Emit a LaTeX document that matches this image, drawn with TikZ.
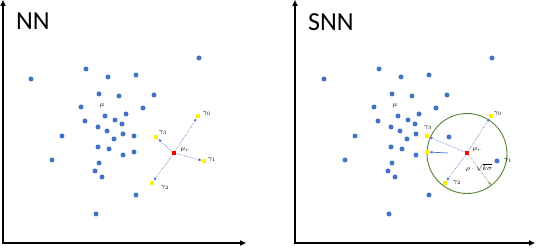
\documentclass[tikz,border=0pt]{standalone}
\usepackage{fontspec}
\setmainfont{Carlito}
\usetikzlibrary{arrows.meta}
\definecolor{dotblue}{HTML}{4472C4}
\definecolor{circgreen}{HTML}{548235}
\definecolor{radgray}{HTML}{8A9A7A}
\begin{document}
\begin{tikzpicture}[x=1pt,y=-1pt,
  dot/.style={circle,fill=dotblue,inner sep=0pt,minimum size=5pt},
  ypt/.style={rectangle,fill=yellow,inner sep=0pt,minimum size=4.5pt},
  rpt/.style={rectangle,fill=red,inner sep=0pt,minimum size=4.5pt},
  lbl/.style={font=\fontsize{7}{8}\selectfont,inner sep=0pt},
  axis/.style={line width=1.6pt,{Triangle[length=6pt,width=5pt]}-{Triangle[length=6pt,width=5pt]}},
  ray/.style={dotblue,densely dotted,line width=0.6pt,-{Triangle[length=3pt,width=2.5pt]}},
  rad/.style={radgray,densely dotted,line width=0.7pt,-{Triangle[length=3pt,width=2.5pt]}},
  ttl/.style={font=\fontsize{26}{30}\selectfont,inner sep=0pt,anchor=north west}]
\useasboundingbox (0,0) rectangle (536,248);

% ---------- left panel (NN) ----------
\coordinate (ly) at (3,0);
\coordinate (lo) at (3,243);
\coordinate (lx) at (246,243);
\draw[axis] (ly) -- (lo) -- (lx);
\node[ttl] (tnn) at (16,13) {NN};

\foreach \x/\y [count=\i] in {199/58,86/69,31/79,108/77,136/75,99/94,119/96,154/95,81/107,143/108,126/114,105/116,115/120,85/121,122/124,98/127,107/131,123/134,134/136,62/136,114/139,98/147,109/149,134/152,123/155,52/160,99/163,95/171,102/177,136/195,96/214}
  \node[dot] (l\i) at (\x,\y) {};

\node[lbl] (lmu) at (102,106) {$\mu$};
\node[ypt] (lg0) at (198,116) {};
\node[ypt] (lg3) at (156,137) {};
\node[ypt] (lg1) at (204,161) {};
\node[ypt] (lg2) at (152,183) {};
\node[rpt] (lmr) at (174,153) {};
\draw[ray] (lmr) -- (lg0);
\draw[ray] (lmr) -- (lg3);
\draw[ray] (lmr) -- (lg1);
\draw[ray] (lmr) -- (lg2);
\node[lbl] (llg0) at (207,114) {$\gamma_0$};
\node[lbl] (llg3) at (163,133) {$\gamma_3$};
\node[lbl] (llg1) at (212,160) {$\gamma_1$};
\node[lbl] (llg2) at (165,188) {$\gamma_2$};
\node[lbl] (llmr) at (185,150) {$\mu_r$};

% ---------- right panel (SNN) ----------
\coordinate (ry) at (295,0);
\coordinate (ro) at (295,243);
\coordinate (rx) at (535,243);
\draw[axis] (ry) -- (ro) -- (rx);
\node[ttl] (tsnn) at (308,13) {SNN};

\foreach \x/\y [count=\i] in {492/58,379/69,324/79,401/77,429/75,392/94,412/96,447/95,374/107,436/108,419/114,398/116,408/120,378/121,415/124,391/127,400/131,416/134,355/136,407/139,391/147,402/149,416/155,345/160,392/163,388/171,395/177,429/195,389/214,449/137,497/161}
  \node[dot] (r\i) at (\x,\y) {};

\node[lbl] (rmu) at (395,106) {$\mu$};
\node[draw=circgreen,line width=0.9pt,circle,minimum size=80pt,inner sep=0pt] (circ) at (467,153.5) {};
\node[ypt] (rg0) at (491,116) {};
\node[ypt] (rg3) at (427,136) {};
\node[ypt] (rg4) at (427,152) {};
\node[ypt] (rg2) at (445,183) {};
\node[rpt] (rmr) at (467,153) {};
\coordinate (rrad) at (491,185);
\coordinate (rseg) at (448,153);
\draw[ray] (rmr) -- (rg0);
\draw[ray] (rmr) -- (rg3);
\draw[dotblue,line width=0.7pt,-{Triangle[length=3pt,width=2.5pt]}] (rseg) -- (rg4);
\draw[ray] (rmr) -- (rg2);
\draw[rad] (rmr) -- (rrad);
\node[lbl] (rlg0) at (498,114) {$\gamma_0$};
\node[lbl] (rlg3) at (428,128) {$\gamma_3$};
\node[lbl] (rlg1) at (508,161) {$\gamma_1$};
\node[lbl] (rlg2) at (457,183) {$\gamma_2$};
\node[lbl] (rlmr) at (477,150) {$\mu_r$};
\node[lbl] (rlrad) at (479,168) {$\rho\cdot\sqrt{k\sigma}$};
\end{tikzpicture}
\end{document}
